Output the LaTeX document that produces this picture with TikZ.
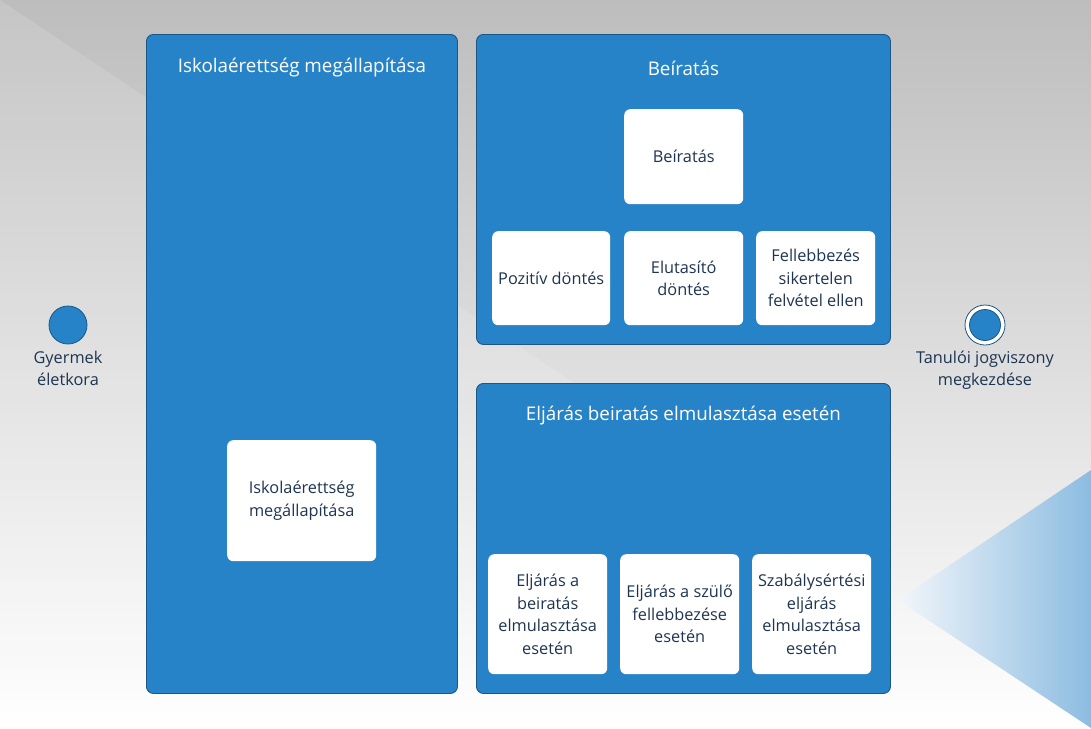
\documentclass[tikz,border=0pt]{standalone}
\usepackage{fontspec}
\setmainfont{Open Sans}
\usetikzlibrary{positioning}

\definecolor{bgTop}{HTML}{BDBDBD}
\definecolor{phaseBlue}{HTML}{2783C8}
\definecolor{phaseEdge}{HTML}{1D5684}
\definecolor{taskText}{HTML}{1E3552}
\definecolor{wedgeLight}{HTML}{F2F6FA}
\definecolor{wedgeDark}{HTML}{8CBCE1}

\tikzset{
    phase/.style={draw=phaseEdge, fill=phaseBlue, line width=0.9pt, rounded corners=7pt,
        anchor=north west, inner sep=0pt},
    phaseTitle/.style={text=white, font=\fontsize{18.8}{22}\selectfont},
    task/.style={fill=white, rounded corners=6pt, anchor=north west, inner sep=0pt,
        align=center, text=taskText, font=\fontsize{16.3}{22.5}\selectfont},
    event/.style={circle, draw=phaseEdge, fill=phaseBlue, line width=0.8pt, minimum size=38pt, inner sep=0pt},
    eventLabel/.style={align=center, text=taskText, font=\fontsize{16.3}{22}\selectfont}
}

\begin{document}
\begin{tikzpicture}[x=1pt, y=-1pt]% [ show background grid ]
    \useasboundingbox (0,0) rectangle (1091,728);
    \shade[top color=bgTop, bottom color=white] (0,0) rectangle (1091,728);
    \fill[white, opacity=0.13] (0,0) -- (1091,728) -- (0,728) -- cycle;
    \shade[left color=wedgeLight, right color=wedgeDark] (898,600) -- (1091,470) -- (1091,728) -- cycle;

    \node[event] (GyermekEletkora) at (68,325) {};
    \node[eventLabel, below=3pt of GyermekEletkora] {Gyermek\\életkora};

    \node[event, fill=white, minimum size=40pt] (TanuloiJogviszony) at (985,325) {};
    \node[event, minimum size=31pt] at (TanuloiJogviszony) {};
    \node[eventLabel, below=2pt of TanuloiJogviszony] {Tanulói jogviszony\\megkezdése};

    \node[phase, minimum width=311pt, minimum height=659pt] (Iskolaerettseg) at (146,34) {};
    \node[phaseTitle] at ([yshift=-34pt]Iskolaerettseg.north) {Iskolaérettség megállapítása};
    \node[task, minimum width=149pt, minimum height=121pt] (IskolaerettsegTask) at (227,440) {Iskolaérettség\\megállapítása};

    \node[phase, minimum width=414pt, minimum height=310pt] (Beiratas) at (476,34) {};
    \node[phaseTitle] at ([yshift=-34pt]Beiratas.north) {Beíratás};
    \node[task, minimum width=119pt, minimum height=95pt] (BeiratasTask) at (624,109) {Beíratás};
    \node[task, minimum width=118pt, minimum height=94pt] (PozitivDontes) at (492,231) {Pozitív döntés};
    \node[task, minimum width=119pt, minimum height=94pt] (ElutasitoDontes) at (624,231) {Elutasító\\döntés};
    \node[task, minimum width=119pt, minimum height=94pt] (Fellebbezes) at (756,231) {Fellebbezés\\sikertelen\\felvétel ellen};

    \node[phase, minimum width=414pt, minimum height=310pt] (Eljaras) at (476,383) {};
    \node[phaseTitle] at ([yshift=-33pt]Eljaras.north) {Eljárás beiratás elmulasztása esetén};
    \node[task, minimum width=119pt, minimum height=120pt] (EljarasBeiratas) at (488,554) {Eljárás a\\beiratás\\elmulasztása\\esetén};
    \node[task, minimum width=119pt, minimum height=120pt] (EljarasSzulo) at (620,554) {Eljárás a szülő\\fellebbezése\\esetén};
    \node[task, minimum width=119pt, minimum height=120pt] (Szabalysertesi) at (752,554) {Szabálysértési\\eljárás\\elmulasztása\\esetén};
\end{tikzpicture}
\end{document}
